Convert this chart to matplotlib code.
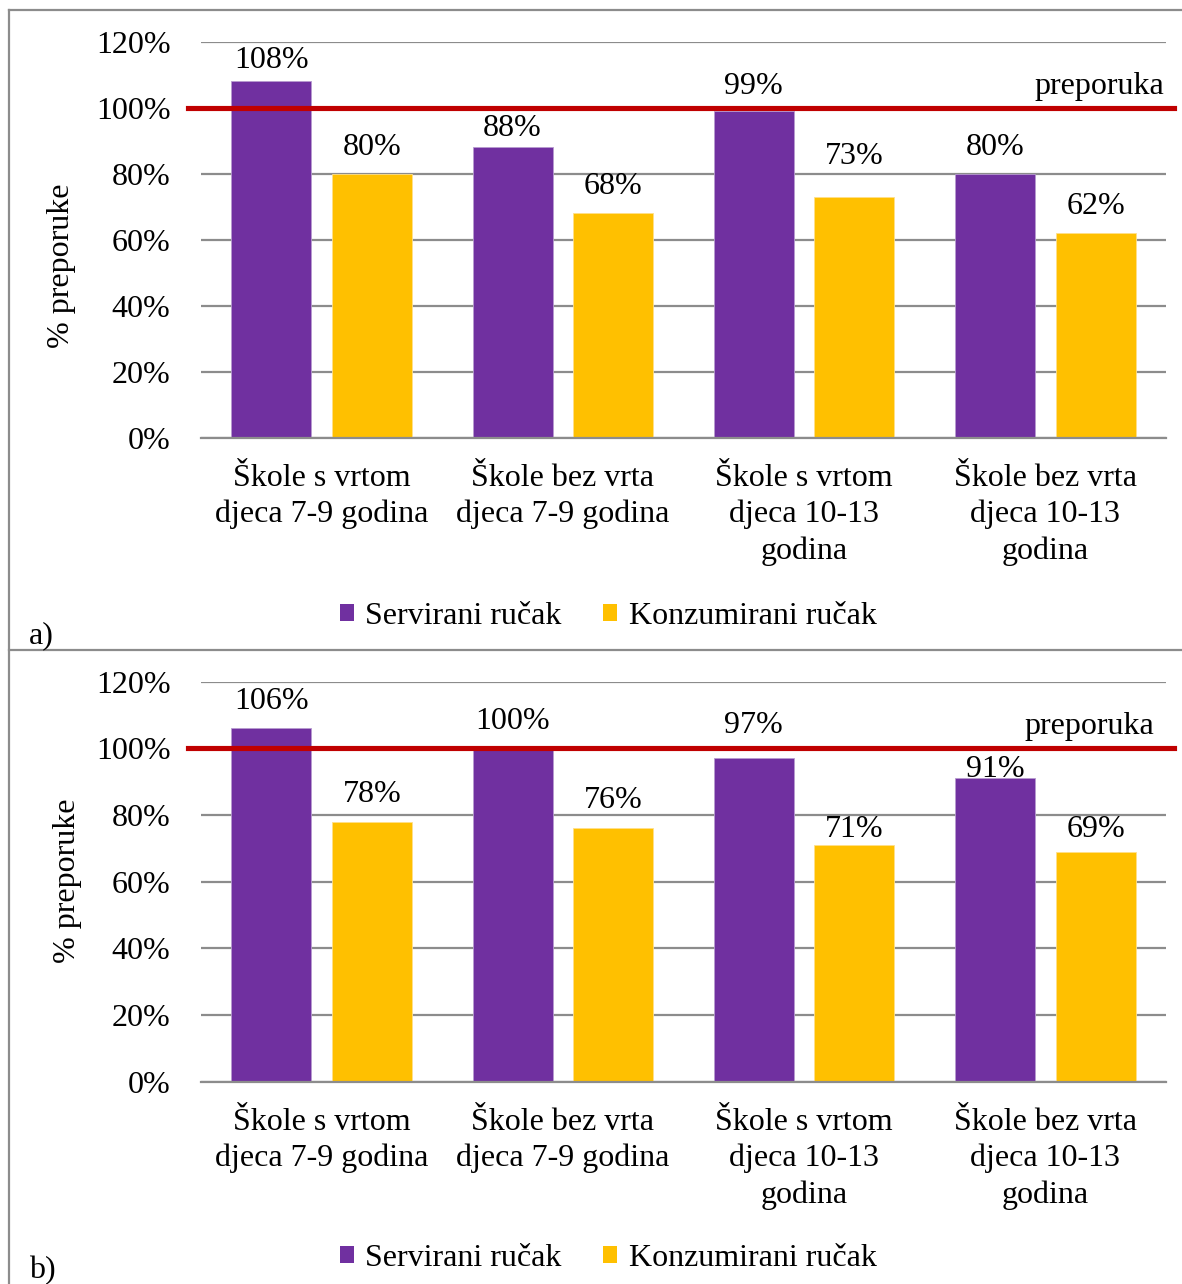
import matplotlib
matplotlib.use("Agg")
import matplotlib.pyplot as plt
from matplotlib.lines import Line2D
from matplotlib.patches import Patch
import matplotlib.transforms as mtransforms
import numpy as np

# ---------------- data ----------------
categories = ["Škole s vrtom\ndjeca 7-9 godina",
              "Škole bez vrta\ndjeca 7-9 godina",
              "Škole s vrtom\ndjeca 10-13\ngodina",
              "Škole bez vrta\ndjeca 10-13\ngodina"]
series_names = ["Servirani ručak", "Konzumirani ručak"]
a_served = [108, 88, 99, 80]
a_consumed = [80, 68, 73, 62]
b_served = [106, 100, 97, 91]
b_consumed = [78, 76, 71, 69]
recommendation = 100
recommendation_label = "preporuka"
y_ticks = [0, 20, 40, 60, 80, 100, 120]
y_label = "% preporuke"
panel_labels = ["a)", "b)"]

# ---------------- style ----------------
PURPLE = "#7030A0"
YELLOW = "#FFC000"
RED = "#C00000"
GRID = "#8C8C8C"
FONT = "Liberation Serif"
FS = 23
plt.rcParams["font.family"] = [FONT, "DejaVu Serif"]
plt.rcParams["font.size"] = FS

W, H = 1182, 1284
fig = plt.figure(figsize=(W / 100, H / 100), dpi=100)

def fx(px):
    return px / W

def fy(py):
    return 1 - py / H

# label offsets (pixels between bar top and label baseline)
a_off_served = [13, 11.7, 17, 18.7]
a_off_consumed = [18.7, 19, 33.3, 19.3]
b_off_served = [19, 19, 25.7, 1.7]
b_off_consumed = [19.7, 20, 8.3, 14.3]

panels = [
    dict(served=a_served, consumed=a_consumed, top=41.7, bottom=437.7,
         off_s=a_off_served, off_c=a_off_consumed, pref_right=0.9985, pref_gap=14,
         ylab=(61, 266), legend_y=616, plabel=(29, 643)),
    dict(served=b_served, consumed=b_consumed, top=681.7, bottom=1081.7,
         off_s=b_off_served, off_c=b_off_consumed, pref_right=0.9875, pref_gap=14,
         ylab=(67, 881), legend_y=1258, plabel=(29, 1278)),
]

left_px, right_px = 201, 1166
bw = 0.332
dx = 0.2085

for i, p in enumerate(panels):
    ax = fig.add_axes([fx(left_px), fy(p["bottom"]), fx(right_px - left_px),
                       (p["bottom"] - p["top"]) / H])
    x = np.arange(len(categories))
    ax.set_xlim(-0.5, len(categories) - 0.5)
    ax.set_ylim(0, 120)
    ax.set_yticks(y_ticks)
    ax.set_yticklabels([f"{t}%" for t in y_ticks])
    ax.yaxis.grid(True, color=GRID, linewidth=1.6)
    ax.set_axisbelow(True)
    for s in ["top", "right", "left"]:
        ax.spines[s].set_visible(False)
    ax.spines["bottom"].set_color(GRID)
    ax.spines["bottom"].set_linewidth(1.6)
    ax.tick_params(axis="y", length=0, pad=22, labelsize=FS)
    ax.tick_params(axis="x", length=0, pad=19, labelsize=FS)
    ax.set_xticks(x)
    ax.set_xticklabels(categories, linespacing=1.3, va="top")

    ax.bar(x - dx, p["served"], width=bw, color=PURPLE,
           edgecolor="#B79BD0", linewidth=0.6, zorder=2)
    ax.bar(x + dx, p["consumed"], width=bw, color=YELLOW,
           edgecolor="#FFE08A", linewidth=0.6, zorder=2)

    for xi, v, off in zip(x - dx, p["served"], p["off_s"]):
        ax.annotate(f"{v}%", (xi, v), xytext=(0, off * 0.72), textcoords="offset points",
                    ha="center", va="baseline", fontsize=FS, zorder=4)
    for xi, v, off in zip(x + dx, p["consumed"], p["off_c"]):
        ax.annotate(f"{v}%", (xi, v), xytext=(0, off * 0.72), textcoords="offset points",
                    ha="center", va="baseline", fontsize=FS, zorder=4)

    # recommendation line
    ax.axhline(recommendation, xmin=(188 - left_px) / (right_px - left_px),
               xmax=(1174 - left_px) / (right_px - left_px),
               color=RED, linewidth=3.7, clip_on=False, zorder=3)
    trans = mtransforms.blended_transform_factory(ax.transAxes, ax.transData)
    trans = mtransforms.offset_copy(trans, fig=fig, x=0, y=p["pref_gap"] * 0.72, units="points")
    ax.text(p["pref_right"], recommendation, recommendation_label, transform=trans,
            ha="right", va="baseline", fontsize=FS)

    fig.text(fx(p["ylab"][0]), fy(p["ylab"][1]), y_label, rotation=90,
             ha="center", va="center", fontsize=FS)

    handles = [Patch(facecolor=PURPLE, edgecolor="none"),
               Patch(facecolor=YELLOW, edgecolor="none")]
    fig.legend(handles, series_names, loc="center", ncol=2,
               bbox_to_anchor=(fx(608), fy(p["legend_y"])), frameon=False,
               fontsize=FS, handlelength=0.45, handleheight=0.45,
               handletextpad=0.35, columnspacing=1.3, borderpad=0, borderaxespad=0)

    fig.text(fx(p["plabel"][0]), fy(p["plabel"][1]), panel_labels[i],
             ha="left", va="baseline", fontsize=FS)

# frame lines
BORDER = "#8C8C8C"
fig.add_artist(Line2D([fx(9), 1], [fy(10), fy(10)], color=BORDER, linewidth=1.6))
fig.add_artist(Line2D([fx(9), fx(9)], [fy(10), 0], color=BORDER, linewidth=1.6))
fig.add_artist(Line2D([fx(9), 1], [fy(650), fy(650)], color=BORDER, linewidth=1.6))

fig.savefig("out.png", dpi=100, facecolor="white")
